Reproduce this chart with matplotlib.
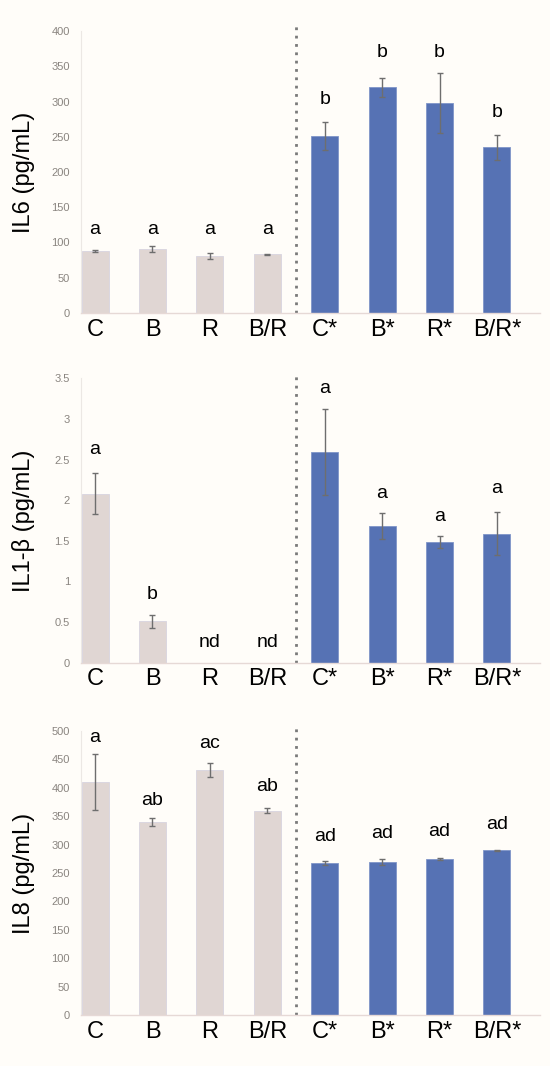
import matplotlib
matplotlib.use("Agg")
import matplotlib.pyplot as plt
import numpy as np

plt.rcParams['font.family'] = ['Liberation Sans', 'DejaVu Sans']

categories = ["C", "B", "R", "B/R", "C*", "B*", "R*", "B/R*"]

il6_values = [88, 91, 81, 83, 251, 320, 298, 235]
il6_errors = [2, 4, 4, 1, 20, 14, 43, 18]
il6_letters = ["a", "a", "a", "a", "b", "b", "b", "b"]
il6_letter_y = [119, 119, 119, 119, 303, 369, 369, 284]
il6_ticks = [0, 50, 100, 150, 200, 250, 300, 350, 400]

il1b_values = [2.08, 0.51, 0, 0, 2.59, 1.685, 1.485, 1.59]
il1b_errors = [0.25, 0.08, 0, 0, 0.53, 0.16, 0.07, 0.27]
il1b_letters = ["a", "b", "nd", "nd", "a", "a", "a", "a"]
il1b_letter_y = [2.62, 0.84, 0.25, 0.25, 3.375, 2.08, 1.80, 2.15]
il1b_ticks = [0, 0.5, 1, 1.5, 2, 2.5, 3, 3.5]
il1b_ticklabels = ["0", "0.5", "1", "1.5", "2", "2.5", "3", "3.5"]

il8_values = [410, 340, 431, 360, 268, 270, 275, 290]
il8_errors = [49, 7, 12, 4.5, 3, 5, 2, 1]
il8_letters = ["a", "ab", "ac", "ab", "ad", "ad", "ad", "ad"]
il8_letter_y = [489, 378, 478, 403, 314, 319, 324, 336]
il8_ticks = [0, 50, 100, 150, 200, 250, 300, 350, 400, 450, 500]

ylabels = ["IL6 (pg/mL)", "IL1-β (pg/mL)", "IL8 (pg/mL)"]

bg = "#fffdf9"
col_left = "#e0d6d3"
col_right = "#5672b4"

fig = plt.figure(figsize=(5.5, 10.66), dpi=100, facecolor=bg)

panels = [
    (il6_values, il6_errors, il6_letters, il6_letter_y, il6_ticks, [str(t) for t in il6_ticks], 400, 0.7064, 0.2645),
    (il1b_values, il1b_errors, il1b_letters, il1b_letter_y, il1b_ticks, il1b_ticklabels, 3.5, 0.3783, 0.2668),
    (il8_values, il8_errors, il8_letters, il8_letter_y, il8_ticks, [str(t) for t in il8_ticks], 500, 0.0478, 0.2664),
]

x = np.arange(len(categories))
colors = [col_left] * 4 + [col_right] * 4
edges = ["#d8d4e0"] * 4 + ["#7f95c8"] * 4

for (vals, errs, letters, ly, ticks, tlabels, ymax, bottom, height), ylab in zip(panels, ylabels):
    ax = fig.add_axes([0.1473, bottom, 0.8345, height])
    ax.set_facecolor(bg)
    ax.bar(x, vals, width=0.47, color=colors, edgecolor=edges, linewidth=0.6, zorder=2)
    errs_plot = [e if e > 0 else np.nan for e in errs]
    ax.errorbar(x, vals, yerr=errs_plot, fmt="none", ecolor="#6e6e6e",
                elinewidth=1.0, capsize=2.5, capthick=1.0, zorder=3)
    for xi, t, yy in zip(x, letters, ly):
        ax.text(xi, yy, t, ha="center", va="center", fontsize=14, color="black")
    ax.set_xlim(-0.245, 7.75)
    ax.set_ylim(0, ymax)
    ax.set_yticks(ticks)
    ax.set_yticklabels(tlabels, fontsize=8, color="#8a8580")
    ax.set_xticks(x)
    ax.set_xticklabels(categories, fontsize=17, color="black")
    ax.tick_params(axis="y", length=0, pad=8)
    ax.tick_params(axis="x", length=0, pad=4)
    for s in ["top", "right"]:
        ax.spines[s].set_visible(False)
    ax.spines["left"].set_color("#ece8e4")
    ax.spines["left"].set_linewidth(0.8)
    ax.spines["bottom"].set_color("#e6d9d6")
    ax.spines["bottom"].set_linewidth(1.0)
    ax.plot([3.5, 3.5], [0, ymax * 1.02], linestyle=(0, (1, 2)), color="#7a7a7a",
            linewidth=2.0, clip_on=False, zorder=1)
    ax.set_ylabel(ylab, fontsize=17, color="black")
    ax.yaxis.set_label_coords(-0.1, 0.5)

fig.savefig("out.png", dpi=100, facecolor=bg)
